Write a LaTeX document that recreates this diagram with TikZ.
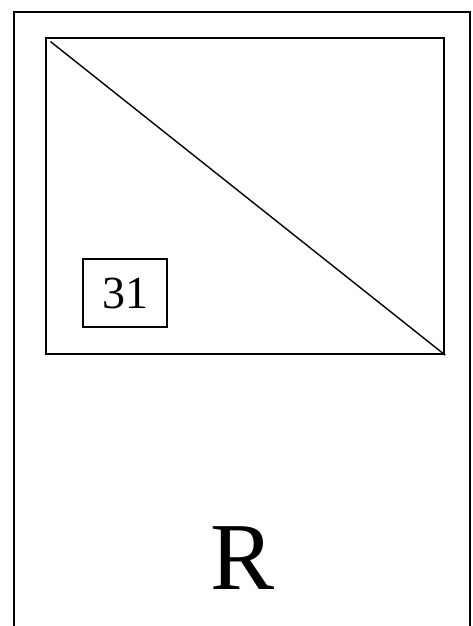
\documentclass[tikz,border=0pt]{standalone}
\usepackage{fontspec}
\setmainfont{Liberation Serif}
\usetikzlibrary{positioning}

\begin{document}
\begin{tikzpicture}[
  x=1pt,y=1pt,
  line cap=rect,line join=miter,
  frame/.style={draw=black,line width=1.7pt,inner sep=0pt,anchor=north west},
  numbox/.style={draw=black,line width=1.5pt,inner sep=0pt,minimum width=84pt,minimum height=68pt,
    font=\fontsize{46}{46}\selectfont},
  letter/.style={inner sep=0pt,font=\fontsize{96}{96}\selectfont}
]
  \path[use as bounding box] (0,0) rectangle (472,-626);

  \node[frame,minimum width=456pt,minimum height=622pt] (sheet) at (13,-11) {};
  \node[frame,minimum width=398pt,minimum height=316pt] (panel) at (45,-37) {};

  \coordinate (cut) at ([shift={(6,-5)}]panel.north west);
  \draw[line width=1.4pt] (cut) -- (panel.south east);

  \node[numbox] (num) at (125,-293) {31};
  \node[letter] (mark) at (243,-558) {R};
\end{tikzpicture}
\end{document}
